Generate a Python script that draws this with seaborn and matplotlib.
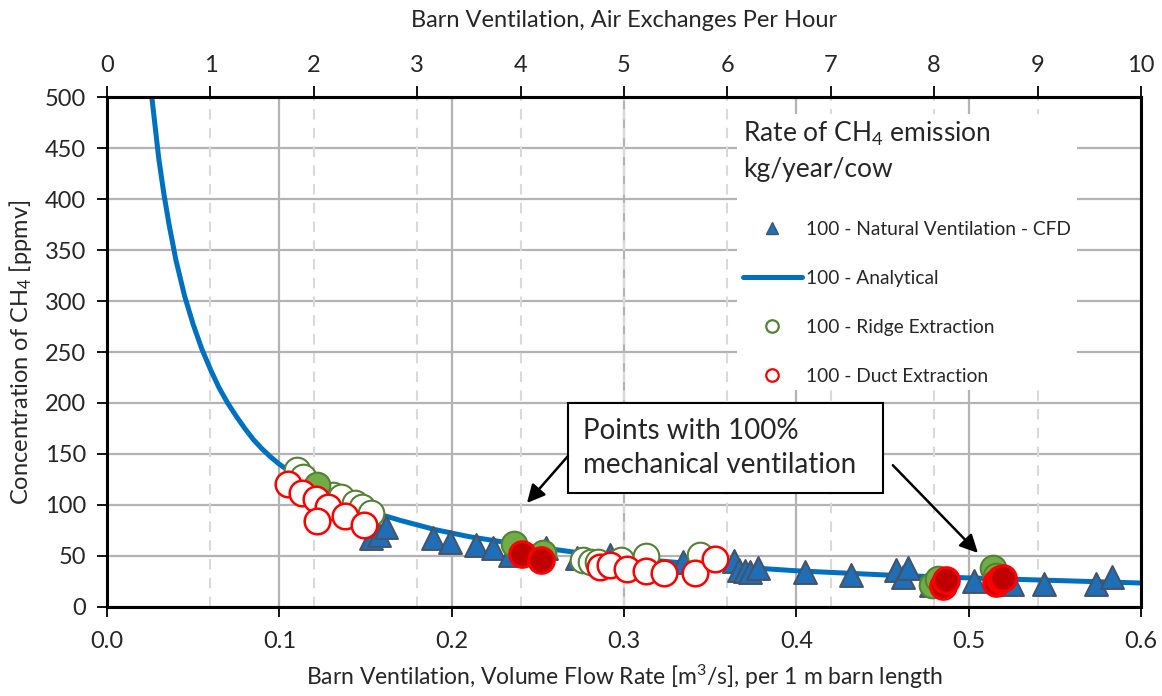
import matplotlib
matplotlib.use("Agg")
import matplotlib.pyplot as plt
import seaborn as sns
import pandas as pd
from matplotlib.lines import Line2D
from matplotlib.patches import Rectangle

# ---------------- data ----------------
curve_q = [0.026, 0.028, 0.030, 0.033, 0.036, 0.040, 0.045, 0.050, 0.055, 0.060, 0.065,
           0.070, 0.075, 0.080, 0.085, 0.090, 0.095, 0.100, 0.110, 0.120, 0.135, 0.150,
           0.170, 0.190, 0.210, 0.240, 0.270, 0.300, 0.350, 0.400, 0.450, 0.500, 0.550,
           0.600]
curve_c = [500, 470, 440, 405, 375, 340, 305, 277, 253, 233, 215,
           200, 187, 175, 164, 155, 147, 140, 128, 118, 106, 95,
           85, 76, 69, 61, 54, 48, 41, 35.5, 31.5, 28.5, 26,
           23.5]

nat_q = [0.153, 0.158, 0.162, 0.189, 0.199, 0.214, 0.224, 0.234, 0.255, 0.273, 0.292,
         0.334, 0.364, 0.367, 0.370, 0.373, 0.378, 0.405, 0.432, 0.458, 0.462, 0.465,
         0.478, 0.503, 0.525, 0.544, 0.574, 0.583]
nat_c = [68, 71, 78, 68, 64, 61, 58, 51, 58, 48, 51,
         44, 45, 36, 35, 34, 38, 34, 31, 36, 29, 38,
         22, 25, 23, 23, 23, 29]

ridge_open_q = [0.110, 0.114, 0.131, 0.136, 0.144, 0.148, 0.153, 0.276, 0.281, 0.285,
                0.298, 0.313, 0.344]
ridge_open_c = [134, 127, 110, 108, 102, 98, 92, 46, 44, 44, 46, 50, 51]
ridge_full_q = [0.122, 0.236, 0.253, 0.479, 0.482, 0.514, 0.516]
ridge_full_c = [120, 62, 53, 22, 27, 38, 30]

duct_open_q = [0.105, 0.113, 0.121, 0.128, 0.122, 0.138, 0.149, 0.286, 0.292, 0.302,
               0.313, 0.323, 0.341, 0.353]
duct_open_c = [121, 112, 106, 98, 84, 89, 80, 39, 41, 37, 35, 33, 33, 47]
duct_full_q = [0.241, 0.252, 0.485, 0.487, 0.516, 0.518, 0.520]
duct_full_c = [52, 46, 21, 26, 24, 27, 28]

y_ticks = [0, 50, 100, 150, 200, 250, 300, 350, 400, 450, 500]
x_ticks = [0.0, 0.1, 0.2, 0.3, 0.4, 0.5, 0.6]
ach_ticks = [0, 1, 2, 3, 4, 5, 6, 7, 8, 9, 10]

# ---------------- styling ----------------
sns.set_theme(style="white")
plt.rcParams["font.family"] = ["Lato", "DejaVu Sans"]
plt.rcParams["mathtext.default"] = "regular"

fig = plt.figure(figsize=(11.62, 6.96), dpi=100)
ax = fig.add_axes([0.0921, 0.1279, 0.8898, 0.7327])

# grid
for yt in y_ticks:
    ax.axhline(yt, color="#b3b3b3", lw=1.6, zorder=0)
for xt in x_ticks:
    ax.axvline(xt, color="#b3b3b3", lw=1.6, zorder=0)
for a in ach_ticks:
    ax.axvline(a * 0.6 / 10, color="#d9d9d9", lw=1.5, ls=(0, (5, 4)), zorder=0)

blue_line = "#0070C0"
tri_face = "#1F6FB8"
tri_edge = "#44546A"

sns.lineplot(x=curve_q, y=curve_c, ax=ax, color=blue_line, lw=3.6, zorder=2,
             estimator=None, sort=False)

sns.scatterplot(x=nat_q, y=nat_c, ax=ax, marker="^", s=270, color=tri_face,
                edgecolor=tri_edge, linewidth=1.5, zorder=3)
sns.scatterplot(x=ridge_open_q, y=ridge_open_c, ax=ax, marker="o", s=340,
                facecolor="white", edgecolor="#548235", linewidth=1.5, zorder=4)
sns.scatterplot(x=ridge_full_q, y=ridge_full_c, ax=ax, marker="o", s=340,
                color="#70AD47", edgecolor="#548235", linewidth=1.5, zorder=4)
sns.scatterplot(x=duct_open_q, y=duct_open_c, ax=ax, marker="o", s=340,
                facecolor="white", edgecolor="#FF0000", linewidth=1.8, zorder=5)
sns.scatterplot(x=duct_full_q, y=duct_full_c, ax=ax, marker="o", s=340,
                color="#C00000", edgecolor="#FF0000", linewidth=2.2, zorder=5)

ax.set_xlim(0, 0.6)
ax.set_ylim(0, 500)
ax.set_xticks(x_ticks)
ax.set_xticklabels([f"{v:.1f}" for v in x_ticks])
ax.set_yticks(y_ticks)
ax.tick_params(axis="both", which="both", direction="out", length=7, width=1.3,
               color="black", labelsize=17, pad=8, bottom=True, left=True)
ax.tick_params(axis="x", pad=10)
for sp in ax.spines.values():
    sp.set_color("black")
    sp.set_linewidth(2.2)
ax.set_xlabel("Barn Ventilation, Volume Flow Rate [m$^3$/s], per 1 m barn length",
              fontsize=16.5, labelpad=8)
ax.set_ylabel("Concentration of CH$_4$ [ppmv]", fontsize=17, labelpad=8)

sec = ax.secondary_xaxis("top", functions=(lambda q: q * 10 / 0.6, lambda a: a * 0.6 / 10))
sec.set_xticks(ach_ticks)
sec.tick_params(direction="out", length=8, width=1.3, color="black", labelsize=17, pad=7,
                top=True)
sec.spines["top"].set_linewidth(2.2)
sec.set_xlabel("Barn Ventilation, Air Exchanges Per Hour", fontsize=17, labelpad=20)

# legend
handles = [
    Line2D([], [], marker="^", ls="none", ms=9, mfc=tri_face, mec=tri_edge, mew=1),
    Line2D([], [], color=blue_line, lw=3.6),
    Line2D([], [], marker="o", ls="none", ms=9, mfc="white", mec="#548235", mew=1.6),
    Line2D([], [], marker="o", ls="none", ms=9, mfc="white", mec="#FF0000", mew=1.6),
]
labels = ["100 - Natural Ventilation - CFD", "100 - Analytical",
          "100 - Ridge Extraction", "100 - Duct Extraction"]
leg = ax.legend(handles, labels, loc="upper left", bbox_to_anchor=(0.6, 0.985),
                frameon=True, facecolor="white", edgecolor="none", framealpha=1,
                fontsize=13.8, title="Rate of CH$_4$ emission\nkg/year/cow",
                title_fontsize=19, handlelength=3.1, handletextpad=0.2,
                labelspacing=1.66, borderpad=0.3)
leg._legend_box.align = "left"
leg._legend_box.sep = 28
leg.get_title().set_linespacing(1.45)
leg.set_zorder(6)

# annotation box
ax.add_patch(Rectangle((0.2675, 112), 0.1829, 88, facecolor="white", edgecolor="black",
                       lw=1.5, zorder=7))
ax.text(0.2765, 156, "Points with 100%\nmechanical ventilation", fontsize=20,
        va="center", ha="left", zorder=8, linespacing=1.35)
arrow_kw = dict(arrowstyle="-|>,head_length=0.9,head_width=0.45", color="black", lw=1.8,
                shrinkA=0, shrinkB=0)
ax.annotate("", xy=(0.2437, 102), xytext=(0.2675, 148), arrowprops=arrow_kw, zorder=8)
ax.annotate("", xy=(0.5054, 53), xytext=(0.456, 139), arrowprops=arrow_kw, zorder=8)

fig.savefig("out.png", dpi=100)
